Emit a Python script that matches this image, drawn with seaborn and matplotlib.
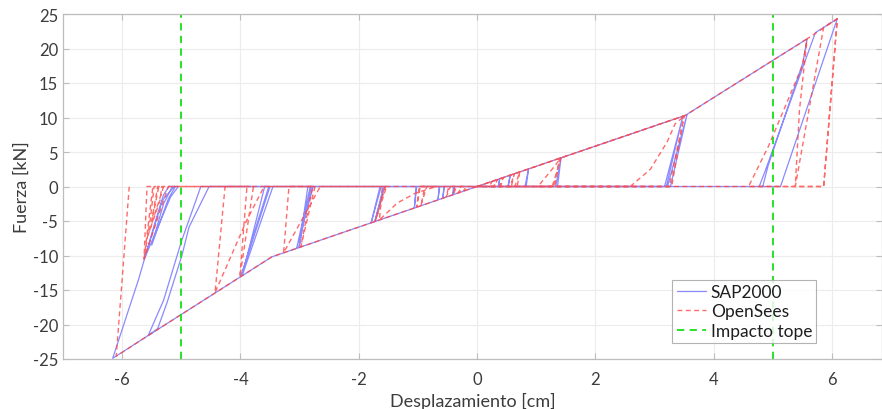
import numpy as np
import pandas as pd
import matplotlib
matplotlib.use("Agg")
import matplotlib.pyplot as plt
import seaborn as sns

# ---------------- data ----------------
sap_x = [0.0,
         0.36, 0.38, 0.37,
         0.52, 0.56, 0.53,
         0.81, 0.87, 0.83,
         1.33, 1.42, 1.36,
         3.17, 3.48, 3.20,
         3.22, 3.55, 3.27,
         0.0, 3.52, 5.58, 5.51, 4.92, 4.83,
         4.77, 4.86, 5.72, 6.09, 5.13,
         -0.40, -0.41, -0.38,
         -0.55, -0.58, -0.56,
         -0.64, -0.66, -0.63,
         -1.03, -1.06, -1.02,
         -1.56, -1.73, -1.58,
         -1.62, -1.79, -1.64,
         -2.80, -2.93, -3.01, -2.86,
         -2.77, -3.05, -2.82,
         -3.45, -3.97, -3.59,
         -3.52, -3.72, -3.99, -3.50,
         -4.53, -4.87, -4.99, -5.24, -5.40, -5.56, -5.30, -5.00, -4.67,
         0.0, -3.47, -5.56, -6.16, -5.72, -5.44, -5.30, -5.21,
         -5.10, -5.22, -5.50, -5.30, -5.15,
         -5.05, -5.18, -5.62, -5.32, -5.12]
sap_y = [0.0,
         0.0, 1.1, 0.0,
         0.0, 1.6, 0.0,
         0.0, 2.5, 0.0,
         0.0, 4.15, 0.0,
         0.0, 10.2, 0.0,
         0.0, 10.4, 0.0,
         0.0, 10.3, 21.4, 18.0, 3.0, 0.0,
         0.0, 2.0, 22.3, 24.3, 0.0,
         0.0, -1.2, 0.0,
         0.0, -1.7, 0.0,
         0.0, -1.9, 0.0,
         0.0, -3.1, 0.0,
         0.0, -5.1, 0.0,
         0.0, -5.25, 0.0,
         0.0, -5.2, -8.85, 0.0,
         0.0, -8.95, 0.0,
         0.0, -12.9, 0.0,
         0.0, -5.4, -13.0, 0.0,
         0.0, -5.9, -10.0, -16.8, -20.6, -21.6, -16.5, -8.0, 0.0,
         0.0, -10.2, -21.6, -24.9, -13.4, -5.1, -1.2, 0.0,
         0.0, -1.8, -8.5, -2.5, 0.0,
         0.0, -1.5, -10.4, -2.0, 0.0]

ops_x = [0.0,
         0.22, 0.25, 0.21,
         0.30, 0.34, 0.28,
         0.40, 0.44, 0.38,
         0.58, 0.63, 0.56,
         0.68, 0.72, 0.64,
         1.27, 1.42, 1.25, 1.03,
         1.30, 1.40, 1.31,
         3.25, 3.50, 3.29,
         0.0, 3.52, 3.35, 3.21, 2.93, 2.59,
         0.0, 3.52, 5.58, 5.50, 4.93, 4.59,
         5.38, 5.45, 5.58, 6.09, 5.86,
         5.38, 5.86, 6.09, 5.86,
         -0.20, -0.22, -0.19,
         -0.28, -0.31, -0.26,
         -0.37, -0.40, -0.35,
         -0.48, -0.52, -0.45,
         -0.85, -0.95, -0.88,
         -0.98, -1.02, -0.96,
         -0.69, -1.05, -1.35, -1.65, -1.60,
         -1.55, -1.72, -1.53,
         -2.65, -3.27, -3.18,
         -2.74, -2.98, -2.78,
         -3.60, -3.90, -4.43, -4.26,
         -3.78, -4.01, -3.89,
         -5.22, -5.63, -5.58,
         -5.48, -5.63, -5.52, -5.46,
         -5.38, -5.50, -5.40,
         -5.30, -5.56, -5.36, -5.33,
         0.0, -3.47, -5.56, -6.10, -5.88]
ops_y = [0.0,
         0.0, 0.72, 0.0,
         0.0, 1.0, 0.0,
         0.0, 1.3, 0.0,
         0.0, 1.85, 0.0,
         0.0, 2.1, 0.0,
         0.0, 4.15, 2.3, 0.0,
         0.0, 4.1, 0.0,
         0.0, 10.25, 0.0,
         0.0, 10.3, 9.1, 6.4, 2.5, 0.0,
         0.0, 10.3, 21.4, 17.5, 5.9, 0.0,
         0.0, 11.0, 21.4, 24.3, 0.0,
         0.0, 23.1, 24.3, 0.0,
         0.0, -0.65, 0.0,
         0.0, -0.9, 0.0,
         0.0, -1.2, 0.0,
         0.0, -1.5, 0.0,
         0.0, -2.8, 0.0,
         0.0, -3.0, 0.0,
         0.0, -1.0, -2.4, -4.85, 0.0,
         0.0, -5.05, 0.0,
         0.0, -9.6, 0.0,
         0.0, -8.75, 0.0,
         0.0, -5.0, -15.4, 0.0,
         0.0, -13.1, 0.0,
         0.0, -10.5, 0.0,
         0.0, -10.5, -4.5, 0.0,
         0.0, -5.0, 0.0,
         0.0, -7.0, -2.0, 0.0,
         0.0, -10.2, -21.6, -24.6, 0.0]

impact_x = [-5.0, 5.0]
impact_y = [-25.0, 25.0]

x_ticks = [-6, -4, -2, 0, 2, 4, 6]
y_ticks = [-25, -20, -15, -10, -5, 0, 5, 10, 15, 20, 25]

# ---------------- figure ----------------
sns.set_theme(style="white")
plt.rcParams["font.family"] = ["Lato", "DejaVu Sans"]

fig = plt.figure(figsize=(8.82, 4.10), dpi=100)
ax = fig.add_axes([63 / 882, 1 - 360 / 410, 819 / 882, 345 / 410])

sap = pd.DataFrame({"x": sap_x, "y": sap_y})
ops = pd.DataFrame({"x": ops_x, "y": ops_y})

sns.lineplot(data=sap, x="x", y="y", sort=False, estimator=None, ax=ax,
             color="#8a8aff", lw=0.9, label="SAP2000")
sns.lineplot(data=ops, x="x", y="y", sort=False, estimator=None, ax=ax,
             color="#ff4545", lw=1.0, alpha=0.8, linestyle=(0, (3.5, 2.5)),
             label="OpenSees")
for i, xv in enumerate(impact_x):
    sns.lineplot(x=[xv, xv], y=impact_y, ax=ax, color="#16e016", lw=1.3,
                 linestyle=(0, (4, 3)), estimator=None, sort=False,
                 label="Impacto tope" if i == 0 else None)

ax.set_xlim(-7, -7 + 819 / 59.15)
ax.set_ylim(-25, 25)
ax.set_xticks(x_ticks)
ax.set_yticks(y_ticks)
ax.set_xticklabels([str(t) for t in x_ticks])
ax.set_yticklabels([str(t) for t in y_ticks])
ax.grid(True, color="#ececec", lw=0.8)
ax.set_axisbelow(True)
for s in ax.spines.values():
    s.set_color("#bdbdbd")
    s.set_linewidth(0.9)
ax.tick_params(axis="both", direction="in", length=4, width=0.8,
               colors="#bdbdbd", labelcolor="#3c3c3c", labelsize=12,
               top=True, right=True, bottom=True, left=True)
ax.tick_params(axis="x", pad=9)
ax.set_xlabel("Desplazamiento [cm]", fontsize=13, color="#3c3c3c", labelpad=3)
ax.set_ylabel("Fuerza [kN]", fontsize=13, color="#3c3c3c", labelpad=2)

leg = ax.legend(loc="lower right", bbox_to_anchor=(0.920, 0.046),
                borderaxespad=0, fontsize=12.5, frameon=True, fancybox=False,
                handlelength=1.7, handletextpad=0.25, borderpad=0.25,
                labelspacing=0.2)
leg.get_frame().set_edgecolor("#a0a0a0")
leg.get_frame().set_linewidth(0.8)
for t in leg.get_texts():
    t.set_color("#1e1e1e")

fig.savefig("out.png", dpi=100)
